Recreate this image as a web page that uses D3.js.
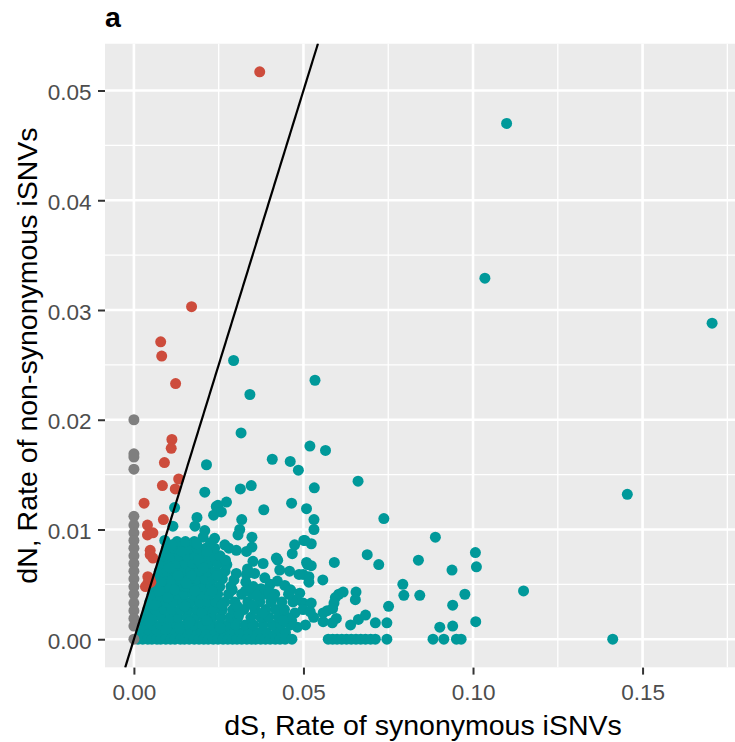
<!DOCTYPE html>
<html>
<head>
<meta charset="utf-8">
<script src="https://cdn.jsdelivr.net/npm/d3@7"></script>
<style>
  html, body { margin: 0; padding: 0; background: #ffffff; }
  svg { display: block; }
</style>
</head>
<body>
<div id="vis"><svg width="735" height="742"></svg></div>
<script>
// axis breaks
const xTicks = [0, 0.05, 0.10, 0.15];
const xTickLabels = ["0.00", "0.05", "0.10", "0.15"];
const xMinorTicks = [0.025, 0.075, 0.125, 0.175];
const yTicks = [0, 0.01, 0.02, 0.03, 0.04, 0.05];
const yTickLabels = ["0.00", "0.01", "0.02", "0.03", "0.04", "0.05"];
const yMinorTicks = [0.005, 0.015, 0.025, 0.035, 0.045];

// genes with dN > dS  [dS, dN]
const redPoints = [
  [0.0371, 0.0517], [0.0170, 0.0303], [0.0079, 0.0271], [0.0082, 0.0258],
  [0.0123, 0.0233], [0.0112, 0.0182], [0.0110, 0.0174], [0.0090, 0.0161],
  [0.0132, 0.0146], [0.0122, 0.0137], [0.0084, 0.0140], [0.0030, 0.0124],
  [0.0087, 0.0109], [0.0040, 0.0104], [0.0040, 0.0095], [0.0056, 0.0097],
  [0.0048, 0.0081], [0.0048, 0.0077], [0.0056, 0.0074], [0.0041, 0.0057],
  [0.0041, 0.0051], [0.0050, 0.0052], [0.0034, 0.0048], [0.0047, 0.0055]
];

// genes with dS = 0  (dN values)
const grayDN = [
  0.0200, 0.0169, 0.0166, 0.0155, 0.0112, 0.0104, 0.0097, 0.0090, 0.0083,
  0.0076, 0.0069, 0.0062, 0.0055, 0.0048, 0.0041, 0.0033, 0.0026, 0.0019,
  0.0012, 0.0000
];

// genes with dN = 0  (dS values)
const tealZeroDS = [
  0.0012, 0.0026, 0.0041, 0.0053, 0.0068, 0.0079, 0.0094, 0.0108, 0.0121,
  0.0137, 0.0149, 0.0163, 0.0178, 0.0192, 0.0206, 0.0219, 0.0234, 0.0248,
  0.0263, 0.0277, 0.0291, 0.0304, 0.0318, 0.0333, 0.0347, 0.0359, 0.0374,
  0.0388, 0.0402, 0.0417, 0.0431, 0.0446, 0.0466, 0.0573, 0.0586, 0.0599,
  0.0613, 0.0627, 0.0641, 0.0655, 0.0669, 0.0683, 0.0698, 0.0712, 0.0746,
  0.0882, 0.0914, 0.0951, 0.0965, 0.1412
];

// genes with dS > dN  [dS, dN]
const tealPoints = [
  // outliers
  [0.1099, 0.0470], [0.1035, 0.0329], [0.1705, 0.0288], [0.1455, 0.0132],
  // upper scatter
  [0.0294, 0.0254], [0.0534, 0.0236], [0.0342, 0.0223], [0.0316, 0.0188],
  [0.0214, 0.0159], [0.0519, 0.0176], [0.0565, 0.0172], [0.0408, 0.0164],
  [0.0461, 0.0162], [0.0485, 0.0154], [0.0209, 0.0134], [0.0314, 0.0137],
  [0.0346, 0.0140], [0.0532, 0.0138], [0.0661, 0.0144], [0.0120, 0.0120],
  [0.0248, 0.0122], [0.0273, 0.0125], [0.0383, 0.0118], [0.0465, 0.0124],
  [0.0509, 0.0119], [0.0531, 0.0109], [0.0531, 0.0100], [0.0737, 0.0110],
  [0.0501, 0.0090], [0.0889, 0.0093], [0.1007, 0.0079], [0.1010, 0.0066],
  [0.0688, 0.0077], [0.0722, 0.0068], [0.0839, 0.0072], [0.0938, 0.0063],
  [0.0591, 0.0070], [0.0509, 0.0070], [0.0523, 0.0067], [0.0499, 0.0059],
  [0.0516, 0.0057], [0.0516, 0.0052], [0.0557, 0.0054], [0.0793, 0.0050],
  [0.0796, 0.0040], [0.0843, 0.0040], [0.0976, 0.0041], [0.1149, 0.0044],
  [0.0940, 0.0031], [0.0751, 0.0030], [0.0655, 0.0043], [0.0653, 0.0036],
  [0.0604, 0.0041], [0.0594, 0.0038], [0.0590, 0.0033], [0.0570, 0.0026],
  [0.0586, 0.0028], [0.0489, 0.0042], [0.0499, 0.0033], [0.0523, 0.0033],
  [0.0499, 0.0027], [0.0530, 0.0020], [0.0558, 0.0016], [0.0585, 0.0015],
  [0.0639, 0.0013], [0.0662, 0.0018], [0.0683, 0.0022], [0.0712, 0.0015],
  [0.0746, 0.0015], [0.0902, 0.0011], [0.0940, 0.0012], [0.1008, 0.0016],
  [0.0617, 0.0043], [0.0558, 0.0024], [0.0597, 0.0019],
  // middle band
  [0.0243, 0.0121], [0.0235, 0.0113], [0.0258, 0.0116], [0.0186, 0.0111],
  [0.0180, 0.0103], [0.0115, 0.0103], [0.0209, 0.0099], [0.0204, 0.0093],
  [0.0318, 0.0109], [0.0312, 0.0100], [0.0307, 0.0095], [0.0523, 0.0087],
  [0.0474, 0.0086], [0.0467, 0.0078], [0.0348, 0.0093], [0.0348, 0.0084],
  [0.0332, 0.0080], [0.0268, 0.0086], [0.0280, 0.0083], [0.0302, 0.0081],
  [0.0238, 0.0092], [0.0424, 0.0072], [0.0381, 0.0069], [0.0351, 0.0071],
  [0.0430, 0.0063], [0.0459, 0.0062], [0.0487, 0.0059], [0.0512, 0.0068],
  [0.0269, 0.0062], [0.0302, 0.0060], [0.0332, 0.0059], [0.0356, 0.0060],
  [0.0091, 0.0090], [0.0420, 0.0074], [0.0504, 0.0090], [0.0330, 0.0052],
  [0.0352, 0.0048], [0.0375, 0.0046], [0.0402, 0.0050], [0.0423, 0.0053],
  [0.0445, 0.0049], [0.0462, 0.0045], [0.0478, 0.0036], [0.0475, 0.0024],
  [0.0465, 0.0017], [0.0482, 0.0011], [0.0506, 0.0013], [0.0520, 0.0025],
  // dense core
  [0.0022, 0.0006], [0.0046, 0.0006], [0.0067, 0.0006], [0.0094, 0.0006],
  [0.0115, 0.0006], [0.0141, 0.0006], [0.0168, 0.0006], [0.0189, 0.0006],
  [0.0216, 0.0006], [0.0238, 0.0006], [0.0265, 0.0006], [0.0287, 0.0006],
  [0.0314, 0.0006], [0.0339, 0.0006], [0.0366, 0.0006], [0.0392, 0.0006],
  [0.0421, 0.0006], [0.0447, 0.0006],
  [0.0028, 0.0013], [0.0053, 0.0013], [0.0079, 0.0013], [0.0102, 0.0013],
  [0.0128, 0.0013], [0.0153, 0.0013], [0.0177, 0.0013], [0.0203, 0.0013],
  [0.0227, 0.0013], [0.0252, 0.0013], [0.0276, 0.0013], [0.0301, 0.0013],
  [0.0328, 0.0013], [0.0352, 0.0013], [0.0381, 0.0013], [0.0409, 0.0013],
  [0.0433, 0.0013], [0.0461, 0.0013],
  [0.0034, 0.0020], [0.0058, 0.0020], [0.0083, 0.0020], [0.0108, 0.0020],
  [0.0131, 0.0020], [0.0157, 0.0020], [0.0182, 0.0020], [0.0206, 0.0020],
  [0.0231, 0.0020], [0.0256, 0.0020], [0.0283, 0.0020], [0.0307, 0.0020],
  [0.0345, 0.0020], [0.0374, 0.0020], [0.0398, 0.0020], [0.0427, 0.0020],
  [0.0452, 0.0020],
  [0.0041, 0.0027], [0.0064, 0.0027], [0.0089, 0.0027], [0.0113, 0.0027],
  [0.0138, 0.0027], [0.0162, 0.0027], [0.0187, 0.0027], [0.0212, 0.0027],
  [0.0236, 0.0027], [0.0261, 0.0027], [0.0292, 0.0027], [0.0324, 0.0027],
  [0.0357, 0.0027], [0.0389, 0.0027], [0.0418, 0.0027], [0.0444, 0.0027],
  [0.0047, 0.0034], [0.0071, 0.0034], [0.0096, 0.0034], [0.0119, 0.0034],
  [0.0144, 0.0034], [0.0168, 0.0034], [0.0193, 0.0034], [0.0217, 0.0034],
  [0.0242, 0.0034], [0.0268, 0.0034], [0.0298, 0.0034], [0.0336, 0.0034],
  [0.0371, 0.0034], [0.0404, 0.0034], [0.0436, 0.0034], [0.0469, 0.0034],
  [0.0054, 0.0041], [0.0077, 0.0041], [0.0101, 0.0041], [0.0126, 0.0041],
  [0.0149, 0.0041], [0.0174, 0.0041], [0.0198, 0.0041], [0.0223, 0.0041],
  [0.0247, 0.0041], [0.0279, 0.0041], [0.0318, 0.0041], [0.0349, 0.0041],
  [0.0383, 0.0041], [0.0415, 0.0041], [0.0456, 0.0041],
  [0.0061, 0.0048], [0.0083, 0.0048], [0.0107, 0.0048], [0.0131, 0.0048],
  [0.0156, 0.0048], [0.0179, 0.0048], [0.0204, 0.0048], [0.0228, 0.0048],
  [0.0253, 0.0048], [0.0286, 0.0048], [0.0329, 0.0044], [0.0362, 0.0040],
  [0.0397, 0.0043],
  [0.0068, 0.0055], [0.0091, 0.0055], [0.0114, 0.0055], [0.0137, 0.0055],
  [0.0162, 0.0055], [0.0186, 0.0055], [0.0209, 0.0055], [0.0234, 0.0055],
  [0.0261, 0.0055], [0.0295, 0.0054], [0.0386, 0.0056],
  [0.0075, 0.0062], [0.0097, 0.0062], [0.0121, 0.0062], [0.0144, 0.0062],
  [0.0168, 0.0062], [0.0191, 0.0062], [0.0216, 0.0062], [0.0242, 0.0062],
  [0.0082, 0.0069], [0.0104, 0.0069], [0.0127, 0.0069], [0.0151, 0.0069],
  [0.0174, 0.0069], [0.0197, 0.0069], [0.0222, 0.0069], [0.0248, 0.0069],
  [0.0274, 0.0068],
  [0.0089, 0.0076], [0.0111, 0.0076], [0.0134, 0.0076], [0.0157, 0.0076],
  [0.0181, 0.0076], [0.0204, 0.0076], [0.0229, 0.0076], [0.0254, 0.0076],
  [0.0096, 0.0083], [0.0118, 0.0083], [0.0141, 0.0083], [0.0164, 0.0083],
  [0.0187, 0.0083], [0.0212, 0.0083], [0.0238, 0.0083],
  [0.0127, 0.0089], [0.0152, 0.0089], [0.0178, 0.0089], [0.0226, 0.0088],
  // in-between fill of the core
  [0.0120, 0.0045], [0.0170, 0.0058], [0.0150, 0.0030], [0.0200, 0.0024],
  [0.0230, 0.0044], [0.0105, 0.0065], [0.0140, 0.0080], [0.0190, 0.0072],
  [0.0215, 0.0017], [0.0260, 0.0031], [0.0080, 0.0052], [0.0100, 0.0038],
  [0.0060, 0.0031], [0.0165, 0.0016], [0.0245, 0.0058], [0.0185, 0.0087],
  [0.0112, 0.0086], [0.0290, 0.0045], [0.0310, 0.0023], [0.0350, 0.0031],
  [0.0380, 0.0024], [0.0410, 0.0038], [0.0440, 0.0017], [0.0335, 0.0064],
  [0.0270, 0.0072], [0.0215, 0.0080], [0.0130, 0.0058], [0.0075, 0.0044],
  [0.0045, 0.0016], [0.0095, 0.0009], [0.0155, 0.0051], [0.0205, 0.0065],
  [0.0135, 0.0010], [0.0255, 0.0010], [0.0305, 0.0030], [0.0180, 0.0044]
];

const panel = { left: 105, top: 43.5, right: 741, bottom: 667.6 };
const colors = { teal: "#00999A", red: "#CD4C3C", gray: "#7F7F7F" };
const font = "Arial, 'Liberation Sans', Helvetica, sans-serif";

const allDS = [...redPoints.map(d => d[0]), ...tealPoints.map(d => d[0]), ...tealZeroDS, 0];
const allDN = [...redPoints.map(d => d[1]), ...tealPoints.map(d => d[1]), ...grayDN, 0];

// ggplot style 5% expansion
function expand(ext) {
  const pad = (ext[1] - ext[0]) * 0.05;
  return [ext[0] - pad, ext[1] + pad];
}

const x = d3.scaleLinear().domain(expand(d3.extent(allDS))).range([panel.left, panel.right]);
const y = d3.scaleLinear().domain(expand(d3.extent(allDN))).range([panel.bottom, panel.top]);

const svg = d3.select("#vis").select("svg");

svg.append("defs").append("clipPath")
  .attr("id", "panel-clip")
  .append("rect")
  .attr("x", panel.left)
  .attr("y", panel.top)
  .attr("width", panel.right - panel.left)
  .attr("height", panel.bottom - panel.top);

const plot = svg.append("g").attr("clip-path", "url(#panel-clip)");

plot.append("rect")
  .attr("x", panel.left)
  .attr("y", panel.top)
  .attr("width", panel.right - panel.left)
  .attr("height", panel.bottom - panel.top)
  .attr("fill", "#EBEBEB");

// grid
plot.selectAll(".x-minor").data(xMinorTicks).join("line")
  .attr("x1", d => x(d)).attr("x2", d => x(d))
  .attr("y1", panel.top).attr("y2", panel.bottom)
  .attr("stroke", "#fff").attr("stroke-width", 1.3);
plot.selectAll(".y-minor").data(yMinorTicks).join("line")
  .attr("y1", d => y(d)).attr("y2", d => y(d))
  .attr("x1", panel.left).attr("x2", panel.right)
  .attr("stroke", "#fff").attr("stroke-width", 1.3);
plot.selectAll(".x-major").data(xTicks).join("line")
  .attr("x1", d => x(d)).attr("x2", d => x(d))
  .attr("y1", panel.top).attr("y2", panel.bottom)
  .attr("stroke", "#fff").attr("stroke-width", 2.6);
plot.selectAll(".y-major").data(yTicks).join("line")
  .attr("y1", d => y(d)).attr("y2", d => y(d))
  .attr("x1", panel.left).attr("x2", panel.right)
  .attr("stroke", "#fff").attr("stroke-width", 2.6);

// points
const r = 5.5;
plot.append("g").selectAll("circle")
  .data([...tealPoints, ...tealZeroDS.map(d => [d, 0])])
  .join("circle")
  .attr("cx", d => x(d[0])).attr("cy", d => y(d[1]))
  .attr("r", r).attr("fill", colors.teal);
plot.append("g").selectAll("circle")
  .data(redPoints)
  .join("circle")
  .attr("cx", d => x(d[0])).attr("cy", d => y(d[1]))
  .attr("r", r).attr("fill", colors.red);
plot.append("g").selectAll("circle")
  .data(grayDN)
  .join("circle")
  .attr("cx", x(0)).attr("cy", d => y(d))
  .attr("r", r).attr("fill", colors.gray);

// dN = dS reference line
const lineEnds = [y.domain()[0], y.domain()[1]];
plot.append("line")
  .attr("x1", x(lineEnds[0])).attr("y1", y(lineEnds[0]))
  .attr("x2", x(lineEnds[1])).attr("y2", y(lineEnds[1]))
  .attr("stroke", "#000").attr("stroke-width", 2.2);

// axes
const xAxis = svg.append("g")
  .attr("transform", `translate(0,${panel.bottom})`)
  .call(d3.axisBottom(x).tickValues(xTicks).tickFormat((d, i) => xTickLabels[i]).tickSize(7).tickPadding(9));
const yAxis = svg.append("g")
  .attr("transform", `translate(${panel.left},0)`)
  .call(d3.axisLeft(y).tickValues(yTicks).tickFormat((d, i) => yTickLabels[i]).tickSize(7).tickPadding(6));

[xAxis, yAxis].forEach(g => {
  g.select(".domain").remove();
  g.selectAll(".tick line").attr("stroke", "#333333").attr("stroke-width", 2);
  g.selectAll(".tick text")
    .attr("fill", "#4D4D4D")
    .attr("font-family", font)
    .attr("font-size", 22.5);
});
xAxis.selectAll(".tick text").attr("dy", null).attr("y", 32);
yAxis.selectAll(".tick text").attr("dy", null).attr("y", 9).attr("x", -13.5);

// titles
svg.append("text")
  .attr("x", (panel.left + panel.right) / 2)
  .attr("y", 735)
  .attr("text-anchor", "middle")
  .attr("font-family", font)
  .attr("font-size", 28.5)
  .attr("fill", "#000")
  .text("dS, Rate of synonymous iSNVs");

svg.append("text")
  .attr("transform", `translate(36.5,${(panel.top + panel.bottom) / 2}) rotate(-90)`)
  .attr("text-anchor", "middle")
  .attr("font-family", font)
  .attr("font-size", 28.5)
  .attr("fill", "#000")
  .text("dN, Rate of non-synonymous iSNVs");

svg.append("text")
  .attr("x", 105)
  .attr("y", 26.7)
  .attr("font-family", font)
  .attr("font-size", 28.5)
  .attr("font-weight", "bold")
  .attr("fill", "#000")
  .text("a");
</script>
</body>
</html>
